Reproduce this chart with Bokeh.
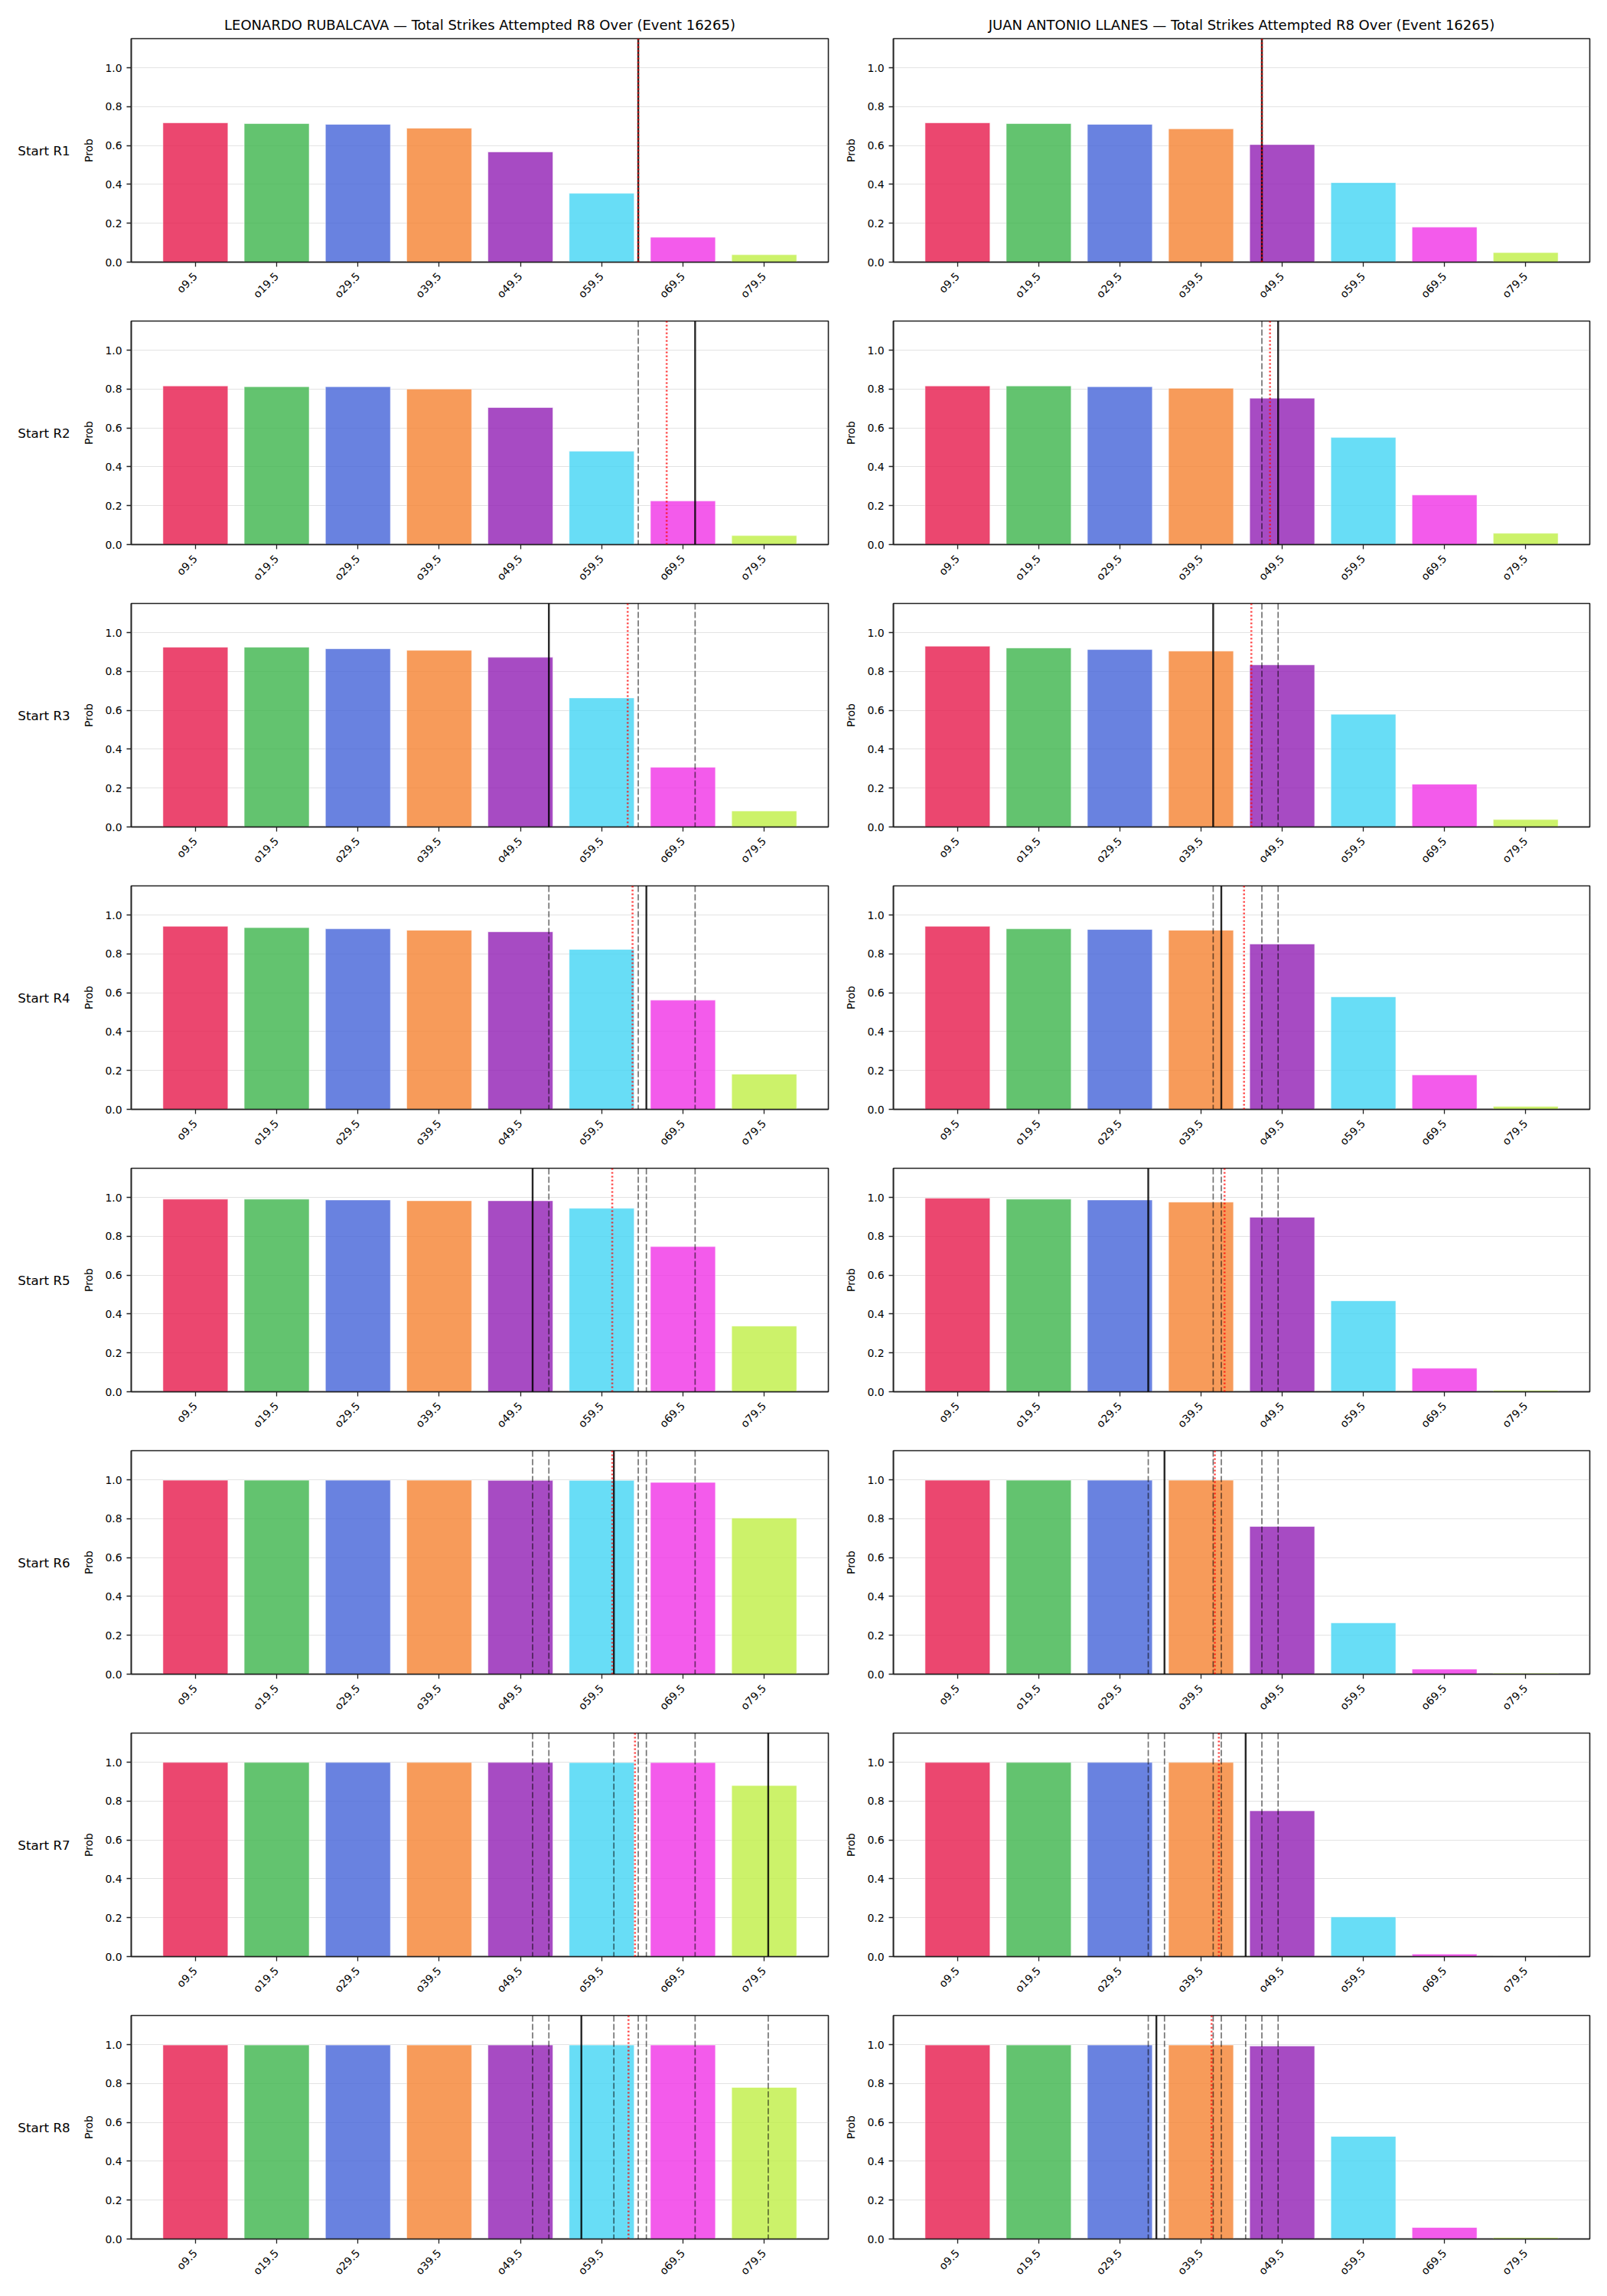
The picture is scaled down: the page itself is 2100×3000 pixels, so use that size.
import math
from bokeh.plotting import figure
from bokeh.layouts import column, row
from bokeh.models import Range1d, FixedTicker, Span, NumeralTickFormatter
from bokeh.core.properties import value
from bokeh.embed import file_html
from bokeh.resources import INLINE

# ---------------- data ----------------
fighters = ["LEONARDO RUBALCAVA", "JUAN ANTONIO LLANES"]
title_suffix = " \u2014 Total Strikes Attempted R8 Over (Event 16265)"
row_labels = ["Start R1", "Start R2", "Start R3", "Start R4",
              "Start R5", "Start R6", "Start R7", "Start R8"]
thresholds = [9.5, 19.5, 29.5, 39.5, 49.5, 59.5, 69.5, 79.5]
tick_labels = ["o9.5", "o19.5", "o29.5", "o39.5", "o49.5", "o59.5", "o69.5", "o79.5"]
y_ticks = [0.0, 0.2, 0.4, 0.6, 0.8, 1.0]
bar_colors = ["#e6194b", "#3cb44b", "#4363d8", "#f58231",
              "#911eb4", "#42d4f4", "#f032e6", "#bfef45"]

left_probs = [
    [0.717, 0.713, 0.709, 0.689, 0.567, 0.354, 0.128, 0.038],
    [0.816, 0.812, 0.812, 0.800, 0.705, 0.480, 0.224, 0.046],
    [0.925, 0.925, 0.917, 0.909, 0.873, 0.664, 0.307, 0.082],
    [0.942, 0.935, 0.929, 0.922, 0.914, 0.823, 0.562, 0.181],
    [0.991, 0.991, 0.987, 0.983, 0.983, 0.944, 0.747, 0.338],
    [0.998, 0.998, 0.998, 0.998, 0.997, 0.997, 0.987, 0.803],
    [0.999, 0.999, 0.999, 0.999, 0.999, 0.998, 0.998, 0.880],
    [0.998, 0.998, 0.998, 0.998, 0.998, 0.998, 0.998, 0.780],
]
right_probs = [
    [0.717, 0.713, 0.709, 0.686, 0.605, 0.409, 0.180, 0.049],
    [0.816, 0.816, 0.812, 0.804, 0.753, 0.551, 0.255, 0.058],
    [0.930, 0.921, 0.913, 0.905, 0.834, 0.580, 0.220, 0.038],
    [0.942, 0.929, 0.926, 0.922, 0.851, 0.579, 0.177, 0.015],
    [0.996, 0.991, 0.987, 0.976, 0.898, 0.468, 0.121, 0.007],
    [0.998, 0.998, 0.998, 0.998, 0.760, 0.264, 0.026, 0.005],
    [0.999, 0.999, 0.999, 0.999, 0.750, 0.204, 0.013, 0.001],
    [0.998, 0.998, 0.998, 0.998, 0.993, 0.528, 0.059, 0.007],
]
# actual strikes attempted per round (solid line), running average (red dotted)
left_actual = [64, 71, 53, 65, 51, 61, 80, 57]
left_avg = [64.0, 67.5, 62.7, 63.3, 60.8, 60.8, 63.6, 62.8]
right_actual = [47, 49, 41, 42, 33, 35, 45, 34]
right_avg = [47.0, 48.0, 45.7, 44.8, 42.4, 41.2, 41.7, 40.8]

FONT = "DejaVu Sans"
INK = "#222222"
BOTTOM = 58


def make_panel(probs, actual, avg, r, title, width, bl, br, height, bt):
    p = figure(width=width, height=height, output_backend="svg", toolbar_location=None,
               x_range=Range1d(1.6, 87.4), y_range=Range1d(0, 1.15),
               min_border_left=bl, min_border_right=br,
               min_border_top=bt, min_border_bottom=BOTTOM,
               title=title, background_fill_color="white", border_fill_color="white")
    p.vbar(x=thresholds, top=probs, width=8, bottom=0,
           fill_color=bar_colors, fill_alpha=0.8,
           line_color="white", line_width=0.7, line_alpha=0.8)
    for v in actual[:r]:
        p.add_layout(Span(location=v, dimension="height", line_color="black",
                          line_alpha=0.55, line_dash="8 3", line_width=1.7))
    p.add_layout(Span(location=actual[r], dimension="height", line_color="black",
                      line_alpha=0.85, line_width=2.4))
    p.add_layout(Span(location=avg[r], dimension="height", line_color="red",
                      line_alpha=0.75, line_dash="2 3", line_width=2.6))

    p.xaxis.ticker = FixedTicker(ticks=thresholds)
    p.xaxis.major_label_overrides = {t: l for t, l in zip(thresholds, tick_labels)}
    p.xaxis.major_label_orientation = math.pi / 4
    p.yaxis.ticker = FixedTicker(ticks=y_ticks)
    p.yaxis.formatter = NumeralTickFormatter(format="0.0")
    p.yaxis.axis_label = "Prob"
    for ax in (p.xaxis, p.yaxis):
        ax.minor_tick_line_color = None
        ax.major_tick_in = 0
        ax.major_tick_out = 6
        ax.major_tick_line_color = INK
        ax.major_tick_line_width = 1.3
        ax.axis_line_color = INK
        ax.axis_line_width = 1.6
        ax.major_label_text_font = FONT
        ax.major_label_text_color = "black"
        ax.axis_label_text_font = FONT
        ax.axis_label_text_font_size = "13.9px"
        ax.axis_label_text_font_style = "normal"
        ax.axis_label_text_color = "black"
        ax.axis_label_standoff = 10
    p.xaxis.major_label_text_font_size = "14px"
    p.xaxis.major_label_standoff = 10
    p.yaxis.major_label_text_font_size = "13.9px"
    p.yaxis.major_label_standoff = 6
    p.xgrid.visible = False
    p.ygrid.ticker = FixedTicker(ticks=y_ticks)
    p.ygrid.grid_line_color = "#b0b0b0"
    p.ygrid.grid_line_alpha = 0.35
    p.ygrid.grid_line_width = 1
    p.outline_line_color = INK
    p.outline_line_width = 1.6
    p.outline_line_alpha = 1.0
    if title is not None:
        p.title.text_font = FONT
        p.title.text_font_size = "18px"
        p.title.text_font_style = "normal"
        p.title.text_color = "black"
        p.title.align = "center"
        p.title.standoff = 15
    return p


def make_label(text, height, bt):
    lab = figure(width=100, height=height, output_backend="svg", toolbar_location=None,
                 x_range=Range1d(0, 1), y_range=Range1d(0, 1),
                 x_axis_location=None, y_axis_location=None,
                 min_border_left=0, min_border_right=0,
                 min_border_top=bt, min_border_bottom=BOTTOM,
                 outline_line_color=None, border_fill_color="white")
    lab.grid.visible = False
    lab.text(x=[0.57], y=[0.5], text=[text], text_font=value(FONT),
             text_font_size="16.7px", text_align="center",
             text_baseline="middle", text_color="black")
    return lab


rows = []
for r in range(8):
    first = r == 0
    bt = 50 if first else 19
    h = bt + 292 + BOTTOM
    lt = fighters[0] + title_suffix if first else None
    rt = fighters[1] + title_suffix if first else None
    lab = make_label(row_labels[r], h, bt)
    left = make_panel(left_probs[r], left_actual, left_avg, r, lt, 990, 71, 8, h, bt)
    right = make_panel(right_probs[r], right_actual, right_avg, r, rt, 1000, 77, 13, h, bt)
    rows.append(row(lab, left, right))

layout = column(*rows)

with open("out.html", "w") as f:
    f.write(file_html(layout, INLINE))
